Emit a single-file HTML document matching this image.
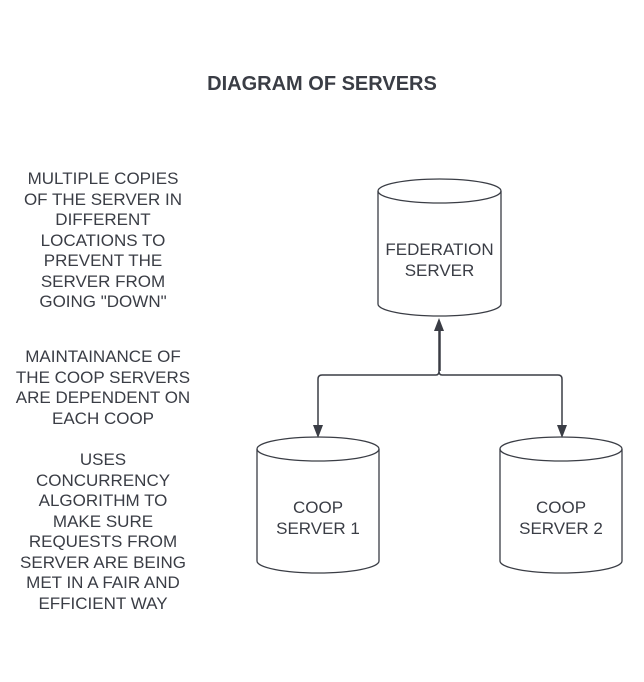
<!DOCTYPE html>
<html><head><style>
body{margin:0;width:644px;height:682px;background:#fff;font-family:"Liberation Sans",sans-serif;color:#3a3d45;position:relative;overflow:hidden}
.t{position:absolute;text-align:center;font-size:17px;line-height:20.5px}
</style></head><body>
<div class="t" style="left:0;width:644px;top:72px;font-size:20px;font-weight:bold;line-height:24px">DIAGRAM OF SERVERS</div>
<div class="t" style="left:-7px;width:220px;top:169px">MULTIPLE COPIES<br>OF THE SERVER IN<br>DIFFERENT<br>LOCATIONS TO<br>PREVENT THE<br>SERVER FROM<br>GOING "DOWN"</div>
<div class="t" style="left:-7px;width:220px;top:347px">MAINTAINANCE OF<br>THE COOP SERVERS<br>ARE DEPENDENT ON<br>EACH COOP</div>
<div class="t" style="left:-7px;width:220px;top:450px">USES<br>CONCURRENCY<br>ALGORITHM TO<br>MAKE SURE<br>REQUESTS FROM<br>SERVER ARE BEING<br>MET IN A FAIR AND<br>EFFICIENT WAY</div>
<svg width="644" height="682" style="position:absolute;left:0;top:0" fill="none" stroke="#3a3d45" stroke-width="1.3">
<g>
<path d="M378 191 A61.5 12 0 0 1 501 191 V304 A61.5 12 0 0 1 378 304 Z"/>
<path d="M378 191 A61.5 12 0 0 0 501 191"/>
<path d="M257 449 A61 12 0 0 1 379 449 V561 A61 12 0 0 1 257 561 Z"/>
<path d="M257 449 A61 12 0 0 0 379 449"/>
<path d="M500 449 A61 12 0 0 1 622 449 V561 A61 12 0 0 1 500 561 Z"/>
<path d="M500 449 A61 12 0 0 0 622 449"/>
</g>
<path d="M318 426 V379 Q318 375 322 375 H436 Q439 375 439 371 V330 M439 330 V371 Q439 375 442 375 H558 Q562 375 562 379 V426" stroke-width="1.5"/>
<path d="M440 371 V330" stroke-width="1.5"/>
<path d="M439 318 L434 331 H444 Z M318 438 L313 425 H323 Z M562 438 L557 425 H567 Z" fill="#3a3d45" stroke="none"/>
</svg>
<div class="t" style="left:368px;width:143px;top:240px">FEDERATION<br>SERVER</div>
<div class="t" style="left:247px;width:142px;top:498px">COOP<br>SERVER 1</div>
<div class="t" style="left:490px;width:142px;top:498px">COOP<br>SERVER 2</div>
</body></html>
